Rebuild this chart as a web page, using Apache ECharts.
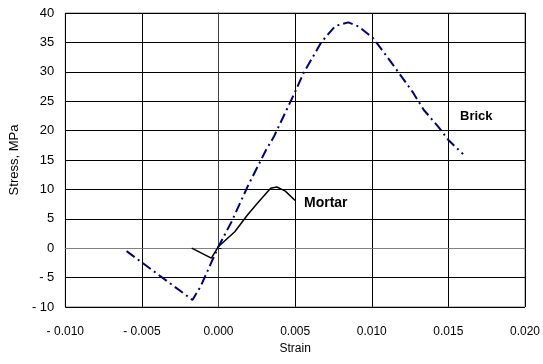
<!DOCTYPE html>
<html>
<head>
<meta charset="utf-8">
<script src="https://cdn.jsdelivr.net/npm/echarts@6/dist/echarts.min.js"></script>
<style>
  html, body { margin: 0; padding: 0; background: #fff; }
  #chart { width: 543px; height: 364px; }
</style>
</head>
<body>
<div id="chart"></div>
<script>
// 读图得到的数据（应变, 应力 MPa）
var brickStrain = [-0.0060, -0.0017, -0.00117, 0.0000, 0.00085, 0.0019, 0.0031, 0.0036, 0.0050, 0.00553, 0.0067, 0.00762, 0.00847, 0.00915, 0.0101, 0.01096, 0.0118, 0.01266, 0.0134, 0.01436, 0.0150, 0.01596];
var brickStress = [-0.5, -8.8, -6.5, 0.3, 4.5, 10.5, 16.7, 18.9, 26.6, 29.7, 35.0, 37.8, 38.4, 37.7, 35.7, 32.7, 29.7, 26.6, 23.5, 20.6, 18.4, 16.0];

var mortarStrain = [-0.00175, -0.00047, 0.0000, 0.00106, 0.0019, 0.00255, 0.0034, 0.0038, 0.00436, 0.0050];
var mortarStress = [0.0, -1.7, 0.3, 2.8, 5.7, 7.7, 10.2, 10.4, 9.7, 8.1];

var xTicks = [-0.010, -0.005, 0.000, 0.005, 0.010, 0.015, 0.020];
var yTicks = [-10, -5, 0, 5, 10, 15, 20, 25, 30, 35, 40];

function pairs(xs, ys) {
  return xs.map(function (x, i) { return [x, ys[i]]; });
}

// Excel 风格负号: "- 0.005"
function fmtX(v) {
  var s = Math.abs(v).toFixed(3);
  return v < -1e-9 ? '- ' + s : s;
}
function fmtY(v) {
  return v < 0 ? '- ' + Math.abs(v) : String(v);
}

var chart = echarts.init(document.getElementById('chart'));

var font = 'Liberation Sans, Arial, sans-serif';

var option = {
  animation: false,
  backgroundColor: '#fff',
  grid: { left: 60, right: 13, top: 13, bottom: 57, show: true, borderColor: '#808080', borderWidth: 1 },
  xAxis: [{
    type: 'value',
    min: xTicks[0],
    max: xTicks[xTicks.length - 1],
    interval: 0.005,
    name: 'Strain',
    nameLocation: 'middle',
    nameGap: 35,
    nameTextStyle: { color: '#000', fontSize: 12, fontFamily: font },
    axisLine: { onZero: false, show: false },
    axisTick: { show: false },
    axisLabel: { color: '#000', fontSize: 12, fontFamily: font, margin: 19, formatter: fmtX },
    splitLine: { show: true, lineStyle: { color: '#000', width: 1 } }
  }, {
    // 原点处的横轴线
    type: 'value',
    min: xTicks[0],
    max: xTicks[xTicks.length - 1],
    interval: 0.005,
    position: 'bottom',
    axisLine: { onZero: true, show: true, lineStyle: { color: '#808080', width: 1 } },
    axisTick: { show: true, inside: true, length: 3, lineStyle: { color: '#000' } },
    axisLabel: { show: false },
    splitLine: { show: false }
  }],
  yAxis: [{
    type: 'value',
    min: yTicks[0],
    max: yTicks[yTicks.length - 1],
    interval: 5,
    name: 'Stress, MPa',
    nameLocation: 'middle',
    nameGap: 31,
    nameTextStyle: { color: '#000', fontSize: 13, fontFamily: font },
    axisLine: { onZero: false, show: false },
    axisTick: { show: false },
    axisLabel: { color: '#000', fontSize: 13, fontFamily: font, margin: 11, formatter: fmtY },
    splitLine: { show: true, lineStyle: { color: '#000', width: 1 } }
  }, {
    // 原点处的纵轴线
    type: 'value',
    min: yTicks[0],
    max: yTicks[yTicks.length - 1],
    interval: 5,
    position: 'left',
    axisLine: { onZero: true, show: true, lineStyle: { color: '#404040', width: 1 } },
    axisTick: { show: true, inside: true, length: 3, lineStyle: { color: '#000' } },
    axisLabel: { show: false },
    splitLine: { show: false }
  }],
  series: [{
    name: 'Brick',
    type: 'line',
    xAxisIndex: 0,
    yAxisIndex: 0,
    data: pairs(brickStrain, brickStress),
    showSymbol: false,
    smooth: false,
    lineStyle: { color: '#000080', width: 2, type: [10, 4, 2, 4] },
    z: 5
  }, {
    name: 'Mortar',
    type: 'line',
    xAxisIndex: 0,
    yAxisIndex: 0,
    data: pairs(mortarStrain, mortarStress),
    showSymbol: false,
    smooth: false,
    lineStyle: { color: '#000', width: 1.5 },
    z: 4
  }],
  graphic: [{
    type: 'text',
    left: 460,
    top: 110,
    style: { text: 'Brick', fill: '#000', font: 'bold 13px ' + font }
  }, {
    type: 'text',
    left: 304,
    top: 196,
    style: { text: 'Mortar', fill: '#000', font: 'bold 14px ' + font }
  }]
};

chart.setOption(option);
</script>
</body>
</html>
